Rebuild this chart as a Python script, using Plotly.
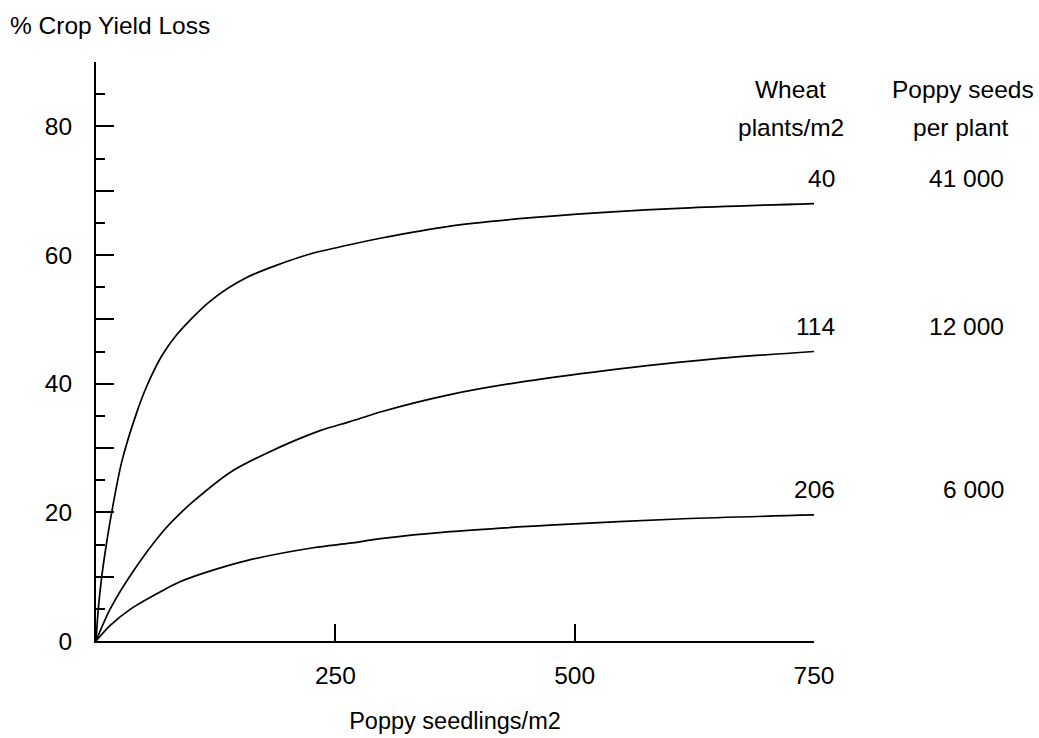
import plotly.graph_objects as go

# Yield-loss curves read for three wheat densities (poppy seedlings/m2 -> % loss)
seedlings_40 = [0, 2.4, 6, 10.8, 16.4, 26.8, 42.5, 53, 68.6, 84.3, 119, 157.4, 220, 265, 297, 370, 439, 527, 614, 750]
loss_40 = [0, 5.0, 10.0, 15.0, 20.0, 27.8, 35.5, 39.6, 44.3, 47.6, 52.8, 56.5, 60.0, 61.6, 62.6, 64.5, 65.6, 66.6, 67.3, 68.0]

seedlings_114 = [0, 14.6, 36.4, 70.3, 87.7, 101.6, 140, 178.3, 234, 265.3, 297, 369.8, 449.9, 529.9, 648.4, 750]
loss_114 = [0, 4.9, 10.3, 17.1, 19.8, 21.7, 26.2, 29.2, 32.7, 34.1, 35.6, 38.3, 40.4, 42.0, 43.9, 45.0]

seedlings_206 = [0, 14.6, 36.4, 70.3, 87.7, 115.6, 157.4, 227, 265.3, 297, 369.8, 474.2, 613.5, 750]
loss_206 = [0, 2.4, 5.0, 7.9, 9.2, 10.7, 12.5, 14.5, 15.2, 15.9, 17.0, 18.0, 19.0, 19.6]

wheat_density = ["40", "114", "206"]
poppy_seeds = ["41 000", "12 000", "6 000"]

y_major = [0, 10, 20, 30, 40, 50, 60, 70, 80]
y_major_text = ["0", "", "20", "", "40", "", "60", "", "80"]
y_minor = [5, 15, 25, 35, 45, 55, 65, 75, 85]
x_label_vals = [250, 500, 750]
x_tick_marks = [250, 500]

FONT = "Liberation Sans, Arial, Helvetica, sans-serif"
FS = 24.5

series = [
    (seedlings_40, loss_40),
    (seedlings_114, loss_114),
    (seedlings_206, loss_206),
]

fig = go.Figure()
for xs, ys in series:
    fig.add_trace(go.Scatter(
        x=xs, y=ys, mode="lines",
        line=dict(color="black", width=1.7, shape="spline", smoothing=0.8),
        showlegend=False, hoverinfo="skip",
    ))

# invisible trace that carries the secondary x axis (tick marks only)
fig.add_trace(go.Scatter(x=[0], y=[0], xaxis="x2", mode="markers",
                         marker=dict(opacity=0), showlegend=False, hoverinfo="skip"))

annotations = []
for (xs, ys), w, s in zip(series, wheat_density, poppy_seeds):
    annotations.append(dict(x=xs[-1], y=ys[-1], xref="x", yref="y", text=w,
                            showarrow=False, xanchor="right", yanchor="middle",
                            xshift=23, yshift=25))
    annotations.append(dict(x=xs[-1], y=ys[-1], xref="x", yref="y", text=s,
                            showarrow=False, xanchor="right", yanchor="middle",
                            xshift=192, yshift=25))

plot_left, plot_w = 96, 718
plot_bottom, plot_h = 641, 579


def px_x(p):
    return (p - plot_left) / plot_w


def px_y(p):
    return (plot_bottom - p) / plot_h


for text, cx, cy in [("Wheat", 790, 89), ("plants/m2", 791, 127),
                     ("Poppy seeds", 963, 89), ("per plant", 961, 127)]:
    annotations.append(dict(x=px_x(cx), y=px_y(cy), xref="paper", yref="paper",
                            text=text, showarrow=False, xanchor="center",
                            yanchor="middle"))

fig.update_layout(
    width=1039, height=738,
    margin=dict(l=96, r=225, t=62, b=97, autoexpand=False),
    paper_bgcolor="white", plot_bgcolor="white",
    font=dict(family=FONT, size=FS, color="black"),
    title=dict(text="% Crop Yield Loss", x=10 / 1039, xanchor="left", xref="container",
               y=1 - 25 / 738, yanchor="middle", yref="container",
               font=dict(family=FONT, size=FS, color="black")),
    xaxis=dict(range=[0, 750], showgrid=False, zeroline=False, showline=True,
               linecolor="black", linewidth=2, tickvals=x_label_vals, ticks="",
               ticklabelstandoff=12,
               title=dict(text="Poppy seedlings/m2", standoff=24,
                          font=dict(family=FONT, size=23.5, color="black"))),
    xaxis2=dict(overlaying="x", range=[0, 750], side="bottom", tickvals=x_tick_marks,
                ticks="inside", ticklen=17, tickwidth=1.5, tickcolor="black",
                showticklabels=False, showgrid=False, zeroline=False, showline=False),
    yaxis=dict(range=[0, 90], showgrid=False, zeroline=False, showline=True,
               linecolor="black", linewidth=2, tickvals=y_major, ticktext=y_major_text,
               ticks="inside", ticklen=18, tickwidth=2, tickcolor="black",
               ticklabelstandoff=17,
               minor=dict(tickvals=y_minor, ticks="inside", ticklen=9, tickwidth=2,
                          tickcolor="black")),
    annotations=annotations,
)

fig.write_html("out.html")
